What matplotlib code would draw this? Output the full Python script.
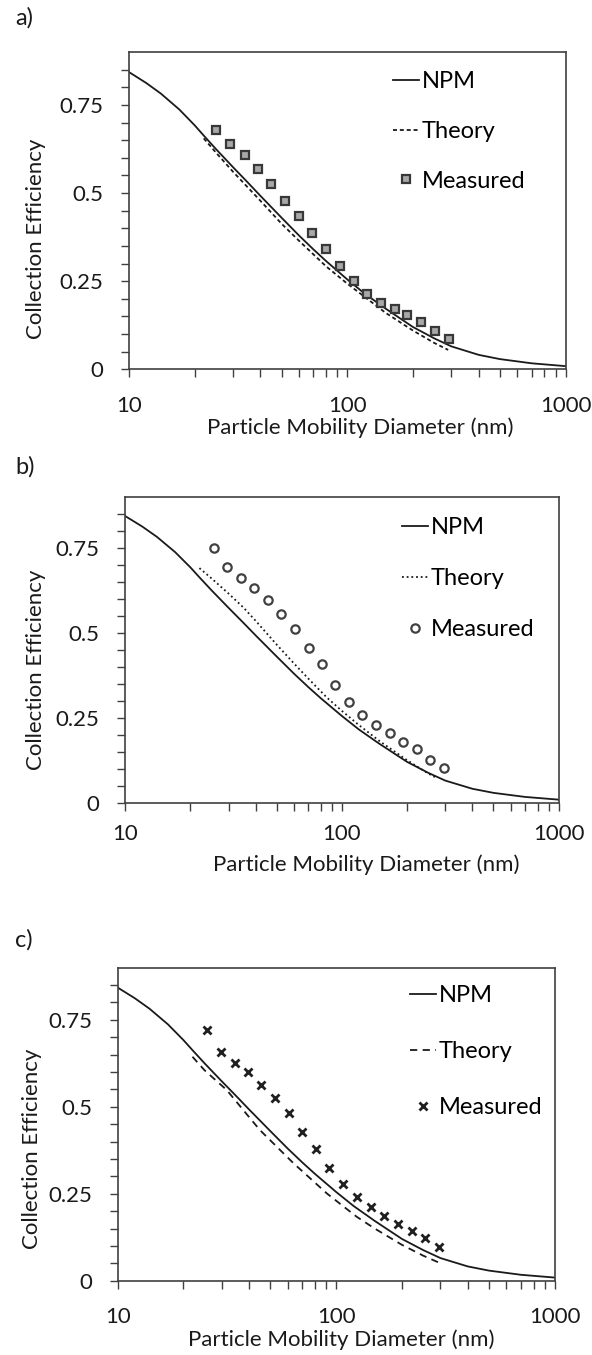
import matplotlib
matplotlib.use("Agg")
import matplotlib.pyplot as plt
import numpy as np

plt.rcParams['font.family'] = ['Lato', 'DejaVu Sans']

# ---------------- data ----------------
npm_d = [10, 12, 14, 17, 20, 22, 25, 30, 35, 40, 50, 60, 70, 80, 100, 120, 150, 200, 250, 300, 400, 500, 700, 1000]
npm_eff = [0.843, 0.812, 0.782, 0.737, 0.692, 0.663, 0.625, 0.573, 0.53, 0.492, 0.43, 0.38, 0.34, 0.307,
           0.255, 0.215, 0.172, 0.12, 0.088, 0.065, 0.041, 0.029, 0.017, 0.009]

theory_a_d = [22, 25, 30, 40, 50, 60, 80, 100, 150, 200, 250, 290]
theory_a_eff = [0.655, 0.615, 0.56, 0.478, 0.413, 0.365, 0.292, 0.243, 0.16, 0.11, 0.075, 0.055]

theory_b_d = [22, 25, 30, 35, 40, 50, 60, 70, 85, 100, 120, 150, 200, 250, 275]
theory_b_eff = [0.69, 0.66, 0.615, 0.575, 0.535, 0.465, 0.41, 0.365, 0.31, 0.27, 0.228, 0.18, 0.125, 0.086, 0.072]

theory_c_d = [22, 25, 31.6, 40, 44.8, 63.7, 90.6, 124, 150, 200, 250, 300]
theory_c_eff = [0.644, 0.605, 0.548, 0.47, 0.433, 0.338, 0.251, 0.184, 0.15, 0.103, 0.072, 0.05]

meas_a_d = [25.1, 29.1, 33.9, 39.0, 44.9, 52.1, 60.1, 69.2, 80.2, 93.1, 107.2, 123.1, 142.2, 164.9, 188.3, 218.4, 253.1, 292.3]
meas_a_eff = [0.680, 0.638, 0.607, 0.569, 0.525, 0.477, 0.434, 0.388, 0.342, 0.292, 0.250, 0.213, 0.189, 0.171, 0.154, 0.133, 0.109, 0.086]

meas_b_d = [25.6, 29.4, 34.1, 39.3, 45.4, 52.5, 60.7, 70.2, 80.8, 93.0, 107.9, 124.3, 143.3, 166.2, 191.5, 221.3, 254.8, 295.6]
meas_b_eff = [0.750, 0.694, 0.662, 0.632, 0.596, 0.555, 0.511, 0.456, 0.407, 0.346, 0.297, 0.258, 0.228, 0.204, 0.179, 0.157, 0.127, 0.103]

meas_c_d = [25.7, 29.6, 34.3, 39.4, 45.3, 52.5, 60.6, 70.0, 80.9, 93.1, 107.5, 124.1, 143.9, 165.5, 191.2, 221.5, 254.7, 294.6]
meas_c_eff = [0.721, 0.658, 0.627, 0.599, 0.563, 0.525, 0.481, 0.429, 0.378, 0.323, 0.277, 0.240, 0.213, 0.187, 0.163, 0.144, 0.122, 0.098]

panel_labels = ['a)', 'b)', 'c)']
series_labels = ['NPM', 'Theory', 'Measured']
ytick_vals = [0, 0.25, 0.5, 0.75]
ytick_text = ['0', '0.25', '0.5', '0.75']
xtick_vals = [10, 100, 1000]
xtick_text = ['10', '100', '1000']
xlabel = 'Particle Mobility Diameter (nm)'
ylabel = 'Collection Efficiency'

# ---------------- layout ----------------
W, H = 592, 1355
fig = plt.figure(figsize=(W / 100, H / 100), dpi=100)

# axes boxes in pixels: left, right, top, bottom
boxes = [(129, 565.5, 52, 369.3), (125.2, 558.6, 496.7, 802.7), (117.6, 554.8, 967.7, 1280.7)]
panel_label_y = [18, 467, 940]
theory_styles = [(0, (2.2, 1.6)), (0, (1.0, 1.6)), (0, (4.0, 3.0))]
theory_data = [(theory_a_d, theory_a_eff), (theory_b_d, theory_b_eff), (theory_c_d, theory_c_eff)]
meas_data = [(meas_a_d, meas_a_eff), (meas_b_d, meas_b_eff), (meas_c_d, meas_c_eff)]
meas_styles = [dict(marker='s', ms=6, mfc='#a8a8a8', mec='#383838', mew=1.6),
               dict(marker='o', ms=6, mfc='white', mec='#404040', mew=1.6),
               dict(marker='x', ms=6, mec='#202020', mew=2.0)]
xpads = [13, 9.5, 13]
ylab_pos = [(-0.213, 0.411), (-0.206, 0.434), (-0.196, 0.421)]
xlab_pos = [(0.529, -0.185), (0.556, -0.204), (0.511, -0.189)]
leg_pos = [(0.605, 0.940), (0.639, 0.934), (0.669, 0.945)]
leg_spacing = [1.22, 1.28, 1.48]

axis_col = '#404040'
for i in range(3):
    l, r, t, b = boxes[i]
    ax = fig.add_axes([l / W, 1 - b / H, (r - l) / W, (b - t) / H])
    ax.plot(npm_d, npm_eff, color='#1a1a1a', lw=1.3, label=series_labels[0])
    td, te = theory_data[i]
    ax.plot(td, te, color='#1a1a1a', lw=1.3, linestyle=theory_styles[i], label=series_labels[1])
    md, me = meas_data[i]
    ax.plot(md, me, linestyle='none', label=series_labels[2], **meas_styles[i])

    ax.set_xscale('log')
    ax.set_xlim(10, 1000)
    ax.set_ylim(0, 0.9)
    ax.set_xticks(xtick_vals)
    ax.set_xticklabels(xtick_text)
    ax.set_xticks([v * m for v in (10, 100) for m in range(2, 10)], minor=True)
    ax.xaxis.set_minor_formatter(matplotlib.ticker.NullFormatter())
    ax.set_yticks(ytick_vals)
    ax.set_yticklabels(ytick_text)
    ax.set_yticks(np.arange(0.05, 0.9, 0.05), minor=True)
    ax.tick_params(axis='both', which='both', direction='out', length=6, width=1.0, color=axis_col,
                   labelsize=16, labelcolor='#1a1a1a')
    ax.tick_params(axis='x', which='both', pad=xpads[i])
    ax.tick_params(axis='y', which='both', pad=12.5)
    for s in ax.spines.values():
        s.set_color(axis_col)
        s.set_linewidth(1.2)

    ax.set_xlabel(xlabel, fontsize=16, color='#1a1a1a')
    ax.xaxis.set_label_coords(*xlab_pos[i])
    ax.xaxis.label.set_va('center')
    ax.set_ylabel(ylabel, fontsize=16, color='#1a1a1a')
    ax.yaxis.set_label_coords(*ylab_pos[i])
    ax.yaxis.label.set_va('center')

    ax.legend(loc='upper left', bbox_to_anchor=leg_pos[i], frameon=False, fontsize=17,
              handlelength=1.1, handletextpad=0.1, labelspacing=leg_spacing[i],
              borderpad=0, borderaxespad=0, numpoints=1)

    fig.text(15 / W, 1 - panel_label_y[i] / H, panel_labels[i], fontsize=17, ha='left', va='center',
             color='#1a1a1a')

fig.savefig('out.png', dpi=100)
